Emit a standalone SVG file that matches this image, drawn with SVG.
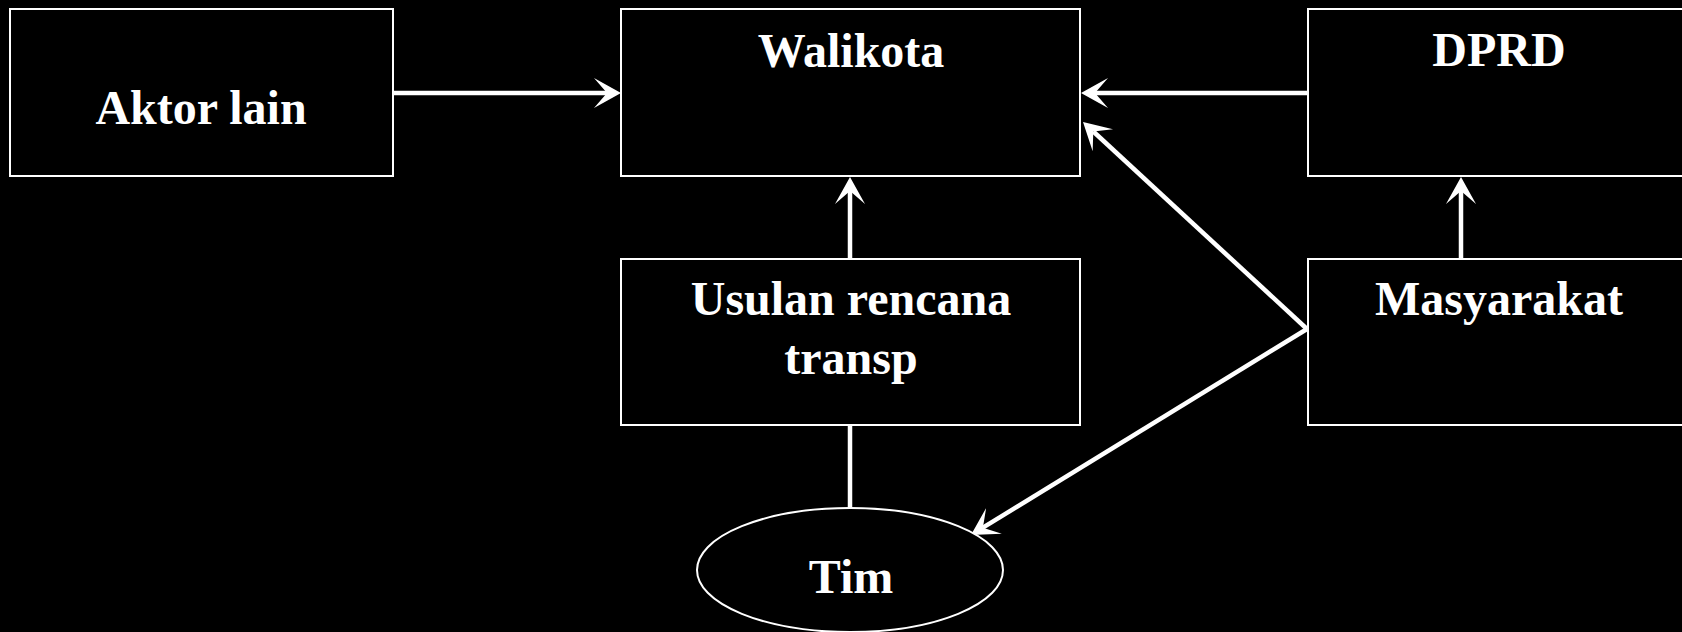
<svg xmlns="http://www.w3.org/2000/svg" width="1682" height="632" viewBox="0 0 1682 632">
<style>
.box{fill:#000;stroke:#fff;stroke-width:2}
.lbl{font-family:"Liberation Serif","Times New Roman",serif;font-weight:bold;font-size:48px;fill:#fff;text-anchor:middle}
.con{stroke:#fff;stroke-width:4.5;fill:none}
</style>
<defs>
<marker id="ah" markerUnits="userSpaceOnUse" markerWidth="30" markerHeight="32" viewBox="0 -16 30 32" refX="13" refY="0" orient="auto">
<path d="M0,-15 L27,0 L0,15 L13,0 Z" fill="#fff"/>
</marker>
</defs>
<rect width="1682" height="632" fill="#000"/>
<g id="connectors">
<line class="con" x1="393" y1="93" x2="607" y2="93" marker-end="url(#ah)"/>
<line class="con" x1="1308" y1="93" x2="1095" y2="93" marker-end="url(#ah)"/>
<line class="con" x1="850" y1="259" x2="850" y2="191" marker-end="url(#ah)"/>
<line class="con" x1="1461" y1="259" x2="1461" y2="191" marker-end="url(#ah)"/>
<line class="con" x1="1307" y1="329" x2="1093.3" y2="131.5" marker-end="url(#ah)"/>
<line class="con" x1="1307" y1="329" x2="982.9" y2="527.7" marker-end="url(#ah)"/>
<line class="con" x1="850" y1="425" x2="850" y2="508"/>
</g>
<g id="aktor">
<rect class="box" x="10" y="9" width="383" height="167"/>
<text class="lbl" x="201" y="124">Aktor lain</text>
</g>
<g id="walikota">
<rect class="box" x="621" y="9" width="459" height="167"/>
<text class="lbl" x="851" y="67">Walikota</text>
</g>
<g id="dprd">
<rect class="box" x="1308" y="9" width="385" height="167"/>
<text class="lbl" x="1499" y="66">DPRD</text>
</g>
<g id="usulan">
<rect class="box" x="621" y="259" width="459" height="166"/>
<text class="lbl" x="851" y="315">Usulan rencana</text>
<text class="lbl" x="851" y="374">transp</text>
</g>
<g id="masyarakat">
<rect class="box" x="1308" y="259" width="385" height="166"/>
<text class="lbl" x="1499" y="315">Masyarakat</text>
</g>
<g id="tim">
<ellipse class="box" cx="850" cy="570" rx="153" ry="62"/>
<text class="lbl" x="851" y="593">Tim</text>
</g>
</svg>
